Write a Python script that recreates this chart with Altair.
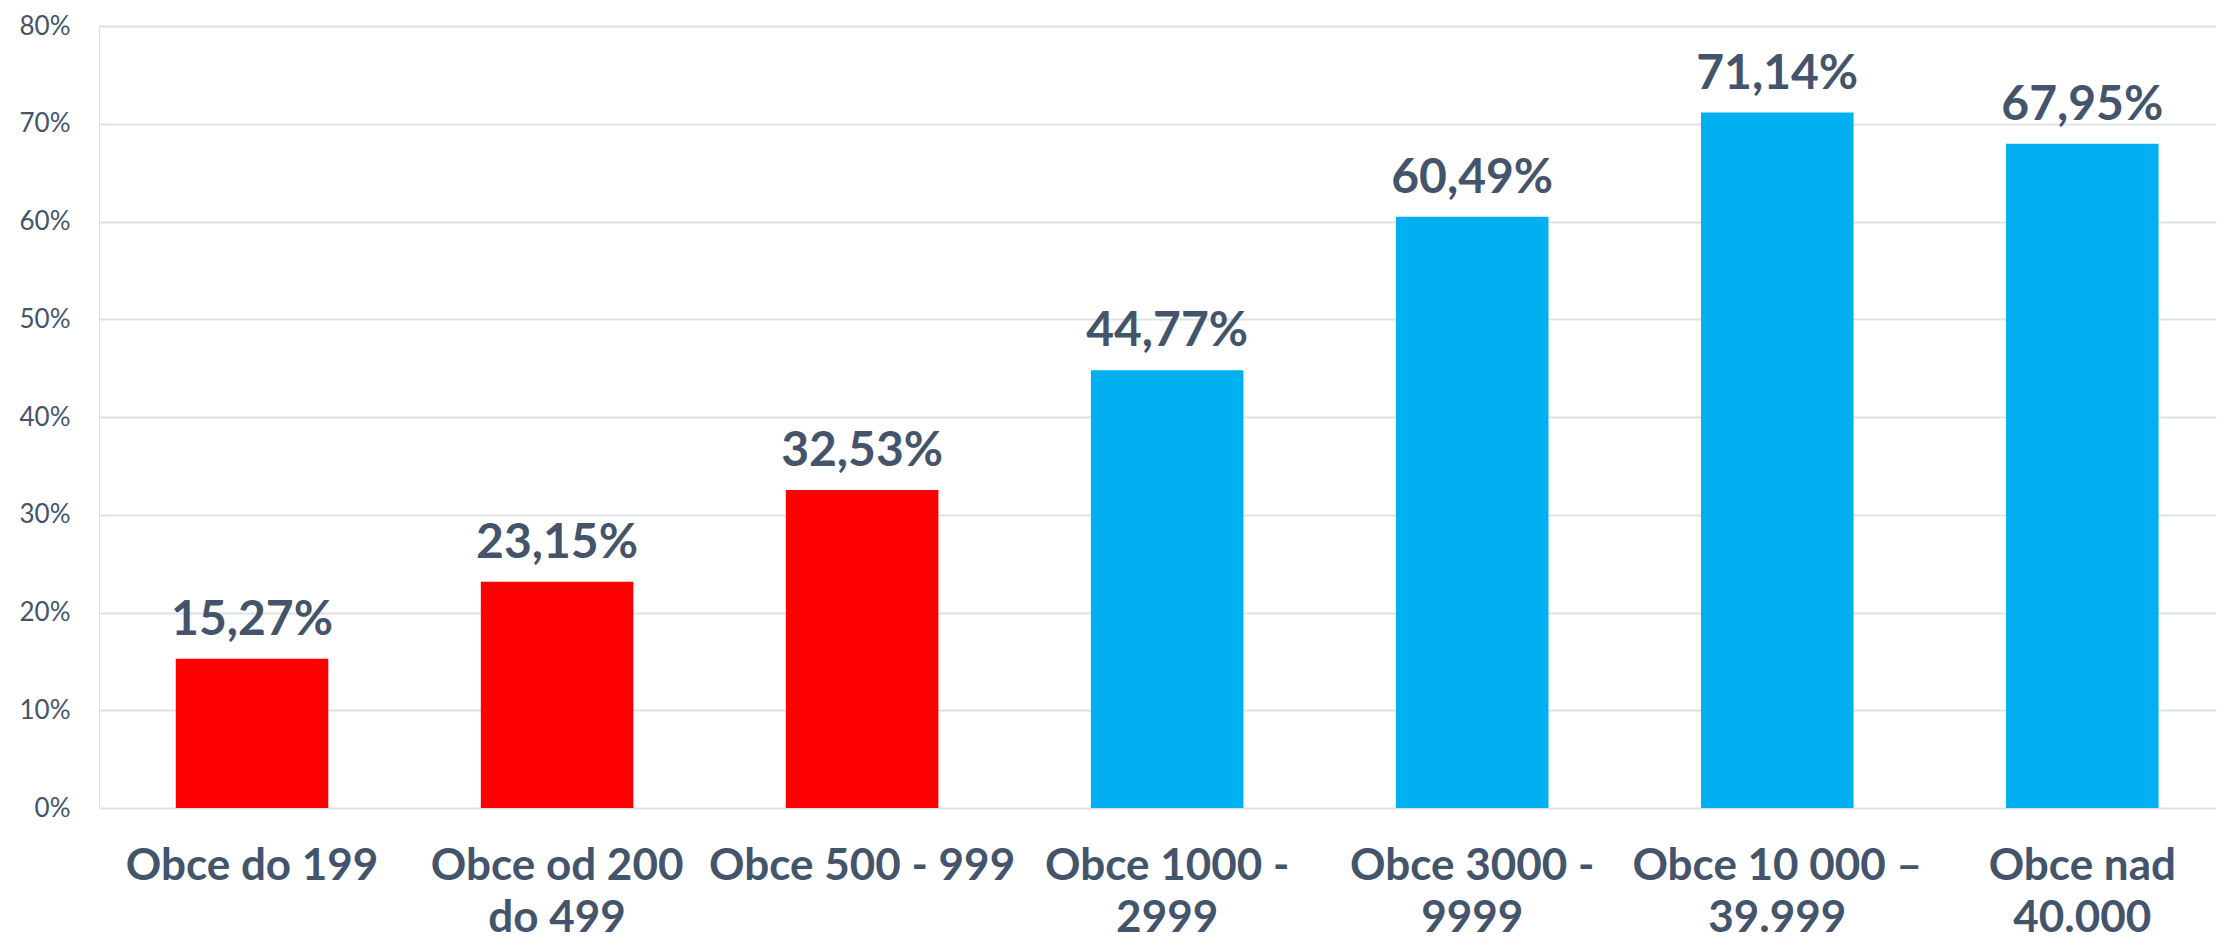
import altair as alt
import pandas as pd

categories = ["Obce do 199", "Obce od 200|do 499", "Obce 500 - 999", "Obce 1000 -|2999",
              "Obce 3000 -|9999", "Obce 10 000 –|39.999", "Obce nad|40.000"]
values = [15.27, 23.15, 32.53, 44.77, 60.49, 71.14, 67.95]
groups = ["low", "low", "low", "high", "high", "high", "high"]
group_colors = {"low": "#FF0000", "high": "#00B0F0"}
y_ticks = [0, 10, 20, 30, 40, 50, 60, 70, 80]

df = pd.DataFrame({"cat": categories, "val": values, "grp": groups})

FONT = "Lato"
TXT = "#44546A"

base = alt.Chart(df).encode(
    x=alt.X("cat:N", sort=categories, title=None,
            scale=alt.Scale(paddingInner=0.5, paddingOuter=0.22, align=0.572),
            axis=alt.Axis(labelExpr="split(datum.label, '|')", labelAngle=0,
                          labelFont=FONT, labelFontSize=44, labelFontWeight="bold",
                          labelColor=TXT, labelPadding=36, labelLineHeight=52,
                          labelLimit=0, labelOverlap=False,
                          ticks=False, domain=False, grid=False,
                          labelBaseline="top")),
)

bars = base.mark_bar().encode(
    y=alt.Y("val:Q", title=None,
            scale=alt.Scale(domain=[0, 80], nice=False),
            axis=alt.Axis(values=y_ticks, labelExpr="datum.value + '%'",
                          labelFont=FONT, labelFontSize=26, labelColor=TXT,
                          labelPadding=29, ticks=False, domain=False,
                          gridColor="#DDE2E8", gridWidth=2)),
    color=alt.Color("grp:N", legend=None,
                    scale=alt.Scale(domain=list(group_colors.keys()),
                                    range=list(group_colors.values()))),
)

labels = base.mark_text(font=FONT, fontSize=48, fontWeight="bold", color=TXT,
                        baseline="alphabetic", dy=-24).transform_calculate(
    lbl="replace(format(datum.val, '.2f'), '.', ',') + '%'"
).encode(
    y=alt.Y("val:Q"),
    text="lbl:N",
)

chart = (bars + labels).properties(
    width=2117, height=782,
    autosize=alt.AutoSizeParams(type="none"),
    padding={"left": 91, "top": 18, "right": 0, "bottom": 133},
).configure_view(stroke=None).configure(background="white")

chart.save("out.html", embed_options={"renderer": "svg", "actions": False})
